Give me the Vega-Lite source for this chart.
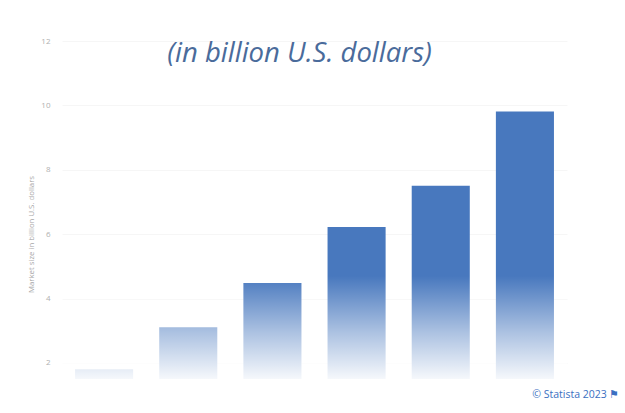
{
  "$schema": "https://vega.github.io/schema/vega-lite/v6.json",
  "width": 505,
  "height": 338,
  "autosize": {"type": "none"},
  "padding": {"left": 62, "top": 41, "right": 58, "bottom": 34},
  "background": "white",
  "title": {
    "text": "(in billion U.S. dollars)",
    "font": "Open Sans",
    "fontStyle": "italic",
    "fontWeight": "normal",
    "fontSize": 27.5,
    "color": "#4a6b9b",
    "anchor": "middle",
    "dx": -15,
    "dy": 30,
    "offset": 0
  },
  "config": {
    "view": {"stroke": null},
    "axis": {"labelFont": "Open Sans", "titleFont": "Open Sans"}
  },
  "data": {
    "values": [
      {"category": "1", "value": 1.8},
      {"category": "2", "value": 3.11},
      {"category": "3", "value": 4.48},
      {"category": "4", "value": 6.22},
      {"category": "5", "value": 7.5},
      {"category": "6", "value": 9.81}
    ]
  },
  "layer": [
    {
      "mark": {"type": "bar", "color": "#4878be", "clip": true},
      "encoding": {
        "x": {
          "field": "category",
          "type": "nominal",
          "sort": null,
          "scale": {"paddingInner": 0.31, "paddingOuter": 0.155},
          "axis": {
            "labels": false,
            "ticks": false,
            "domain": false,
            "title": "© Statista 2023 ⚑",
            "titleFont": "Open Sans",
            "titleFontWeight": "normal",
            "titleFontSize": 10.5,
            "titleColor": "#3a6fc1",
            "titleAnchor": "end",
            "titleAlign": "right",
            "titleX": 557,
            "titlePadding": 10
          }
        },
        "y": {
          "field": "value",
          "type": "quantitative",
          "scale": {"domain": [1.5, 12], "zero": false, "nice": false},
          "axis": {
            "values": [2, 4, 6, 8, 10, 12],
            "title": "Market size in billion U.S. dollars",
            "titleFontSize": 7.8,
            "titleFontWeight": "normal",
            "titleColor": "#a8a8a8",
            "titleY": 193,
            "titlePadding": 5,
            "labelFontSize": 8,
            "labelColor": "#b0b0b0",
            "labelOpacity": {"condition": {"test": "datum.value == 2", "value": 0.3}, "value": 1},
            "labelPadding": 12,
            "ticks": false,
            "domain": false,
            "grid": true,
            "gridColor": "#f6f6f6",
            "gridWidth": 1
          }
        }
      }
    },
    {
      "data": {"values": [{"lo": 1.5, "hi": 4.7}]},
      "mark": {
        "type": "rect",
        "fill": {
          "gradient": "linear",
          "x1": 0, "y1": 1, "x2": 0, "y2": 0,
          "stops": [
            {"offset": 0, "color": "rgba(255,255,255,0.95)"},
            {"offset": 0.45, "color": "rgba(255,255,255,0.55)"},
            {"offset": 1, "color": "rgba(255,255,255,0)"}
          ]
        }
      },
      "encoding": {
        "y": {"field": "lo", "type": "quantitative"},
        "y2": {"field": "hi"}
      }
    }
  ]
}
